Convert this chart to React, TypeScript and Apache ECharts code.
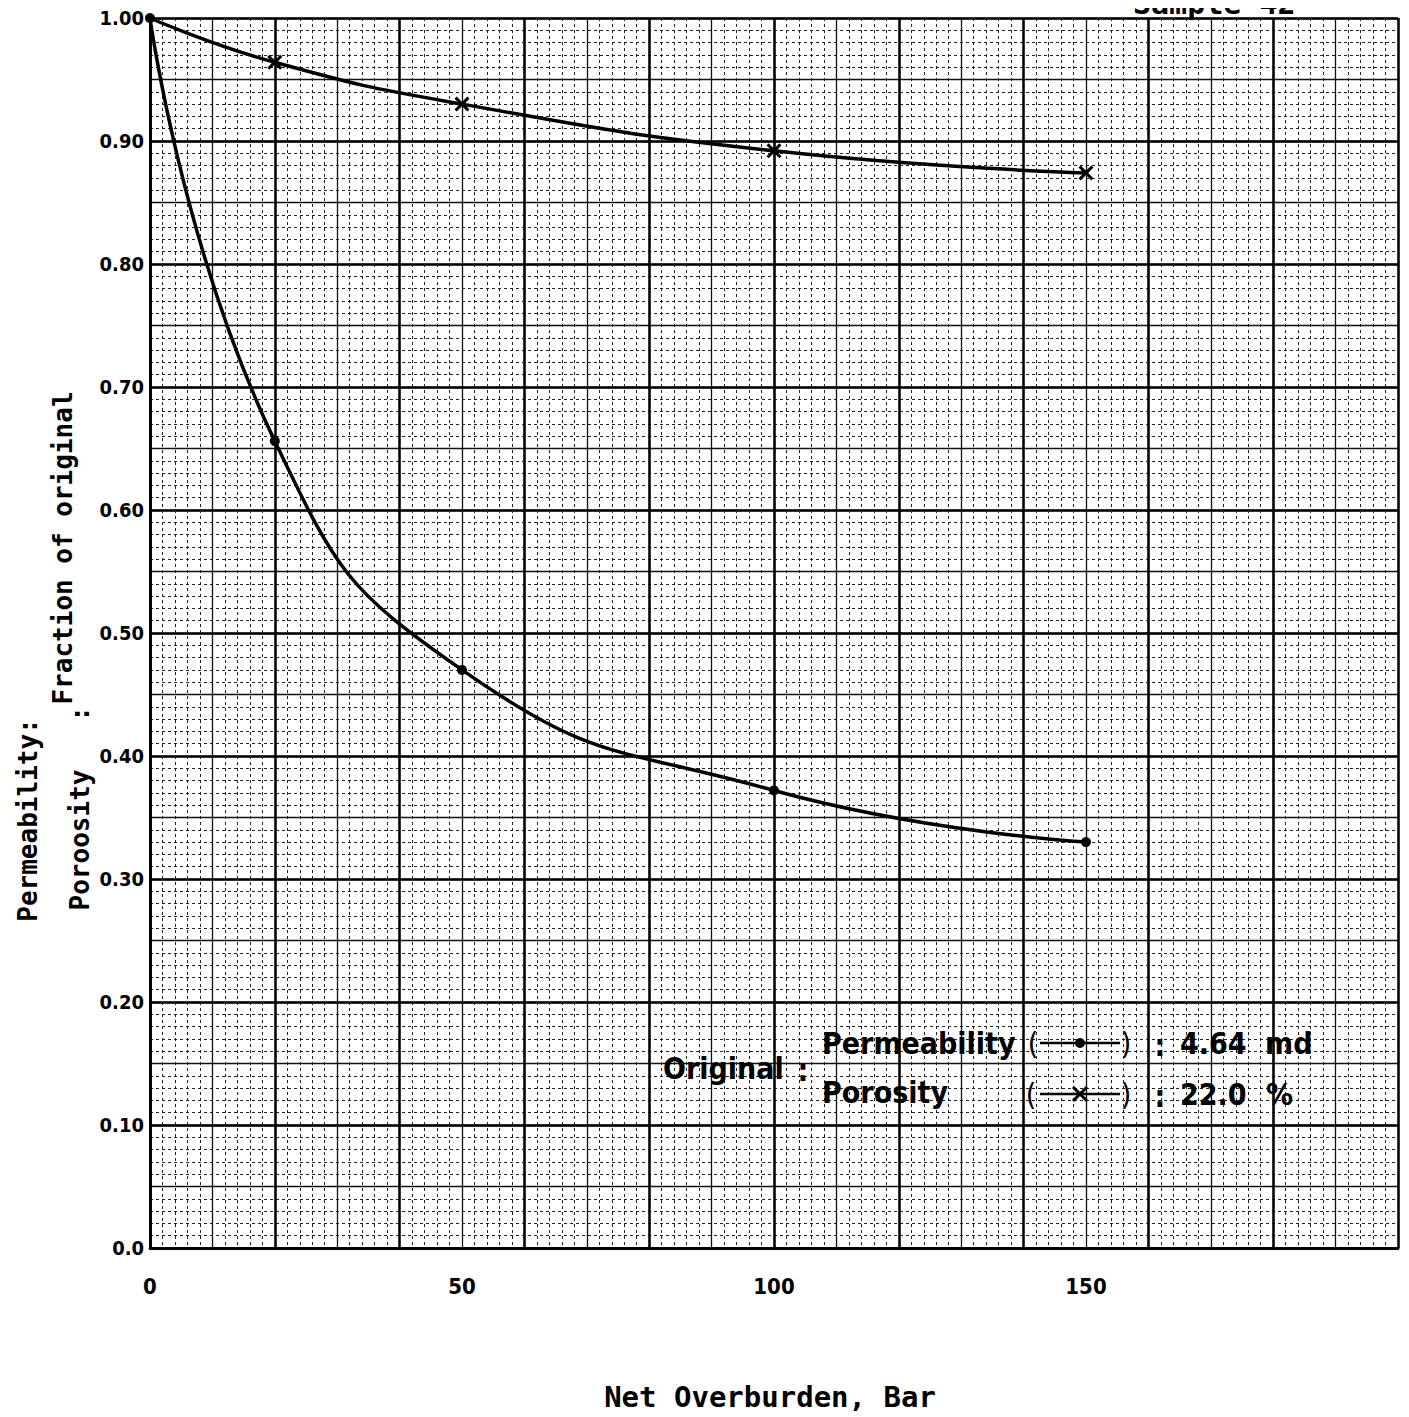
import React, { useEffect, useRef } from "react";
import * as echarts from "echarts";

const overburden = [0, 20, 50, 100, 150];
const permeabilityFraction = [1.0, 0.656, 0.47, 0.372, 0.33];
const porosityFraction = [1.0, 0.964, 0.93, 0.892, 0.874];
const xLabelValues = [0, 50, 100, 150];
const yLabelValues = [0, 0.1, 0.2, 0.3, 0.4, 0.5, 0.6, 0.7, 0.8, 0.9, 1.0];

const FONT = "'DejaVu Sans Condensed', 'DejaVu Sans', sans-serif";
const MONO = "'DejaVu Sans Mono', monospace";
const X_SYMBOL =
  "path://M0,2 L2,0 L7,5 L12,0 L14,2 L9,7 L14,12 L12,14 L7,9 L2,14 L0,12 L5,7 Z";

export default function App() {
  const ref = useRef<HTMLDivElement>(null);
  useEffect(() => {
    if (!ref.current) return;
    const chart = echarts.init(ref.current, undefined, { renderer: "svg" });
    const minorLine = { show: true, lineStyle: { color: "#222", width: 1, type: [3, 3] as any } };
    const txt = (text: string, x: number, y: number, font: string, extra: any = {}) => ({
      type: "text",
      x,
      y,
      z: 20,
      ...extra,
      style: { text, font, fill: "#000", align: extra.align || "left", verticalAlign: "middle" },
    });
    const option: any = {
      animation: false,
      backgroundColor: "#ffffff",
      grid: { left: 150, right: 11, top: 18, bottom: 169, containLabel: false },
      xAxis: [
        {
          type: "value",
          min: 0,
          max: 200,
          interval: 10,
          position: "bottom",
          axisLine: { show: true, lineStyle: { color: "#000", width: 2.5 } },
          axisTick: { show: false },
          axisLabel: {
            margin: 27,
            color: "#000",
            fontFamily: FONT,
            fontWeight: "bold",
            fontSize: 22,
            formatter: (v: number) => (xLabelValues.includes(Math.round(v)) ? String(Math.round(v)) : ""),
          },
          splitLine: { show: true, lineStyle: { color: "#111", width: 1.3 } },
          minorTick: { show: false, splitNumber: 5 },
          minorSplitLine: minorLine,
        },
        {
          type: "value",
          min: 0,
          max: 200,
          interval: 20,
          position: "top",
          axisLine: { show: true, lineStyle: { color: "#000", width: 2.5 } },
          axisTick: { show: false },
          axisLabel: { show: false },
          splitLine: { show: true, lineStyle: { color: "#000", width: 2.5 } },
        },
      ],
      yAxis: [
        {
          type: "value",
          min: 0,
          max: 1,
          interval: 0.05,
          position: "left",
          axisLine: { show: true, lineStyle: { color: "#000", width: 2.5 } },
          axisTick: { show: false },
          axisLabel: {
            margin: 6,
            color: "#000",
            fontFamily: FONT,
            fontWeight: "bold",
            fontSize: 20,
            formatter: (v: number) => {
              const hit = yLabelValues.find((t) => Math.abs(t - v) < 1e-6);
              if (hit === undefined) return "";
              return hit === 0 ? "0.0" : hit.toFixed(2);
            },
          },
          splitLine: { show: true, lineStyle: { color: "#111", width: 1.3 } },
          minorTick: { show: false, splitNumber: 5 },
          minorSplitLine: minorLine,
        },
        {
          type: "value",
          min: 0,
          max: 1,
          interval: 0.1,
          position: "right",
          axisLine: { show: true, lineStyle: { color: "#000", width: 2.5 } },
          axisTick: { show: false },
          axisLabel: { show: false },
          splitLine: { show: true, lineStyle: { color: "#000", width: 2.5 } },
        },
      ],
      series: [
        {
          name: "Permeability",
          type: "line",
          xAxisIndex: 0,
          yAxisIndex: 0,
          smooth: 0.5,
          data: overburden.map((x, i) => [x, permeabilityFraction[i]]),
          symbol: "circle",
          symbolSize: 10,
          itemStyle: { color: "#000" },
          lineStyle: { color: "#000", width: 3.5 },
          z: 11,
        },
        {
          name: "Porosity",
          type: "line",
          xAxisIndex: 0,
          yAxisIndex: 0,
          smooth: 0.5,
          data: overburden.map((x, i) => [x, porosityFraction[i]]),
          symbol: (_v: any, p: any) => (p.dataIndex === 0 ? "none" : X_SYMBOL),
          symbolSize: 15,
          itemStyle: { color: "#000" },
          lineStyle: { color: "#000", width: 3.5 },
          z: 10,
        },
      ],
      graphic: [
        { type: "text", left: 1133, top: -12, style: { text: "Sample 42", font: `bold 30px ${MONO}`, fill: "#000" } },
        txt("Permeability:", 28, 820, `bold 26px ${MONO}`, { rotation: Math.PI / 2, align: "center" }),
        txt("Poroosity", 80, 840, `bold 26px ${MONO}`, { rotation: Math.PI / 2, align: "center" }),
        txt(":", 80, 714, `bold 26px ${MONO}`, { rotation: Math.PI / 2, align: "center" }),
        txt("Fraction of original", 63, 548, `bold 26px ${MONO}`, { rotation: Math.PI / 2, align: "center" }),
        txt("Net Overburden, Bar", 770, 1397, `bold 29px ${MONO}`, { align: "center" }),
        // legend block
        txt("Original", 663, 1068, `bold 30px ${FONT}`),
        txt(":", 803, 1070, `bold 30px ${FONT}`, { align: "center" }),
        txt("Permeability", 822, 1043, `bold 30px ${FONT}`),
        txt("Porosity", 822, 1092, `bold 30px ${FONT}`),
        txt("(", 1033, 1043, `30px ${FONT}`, { align: "center" }),
        txt(")", 1126, 1043, `30px ${FONT}`, { align: "center" }),
        txt("(", 1031, 1094, `30px ${FONT}`, { align: "center" }),
        txt(")", 1126, 1094, `30px ${FONT}`, { align: "center" }),
        { type: "line", z: 20, shape: { x1: 1040, y1: 1043, x2: 1120, y2: 1043 }, style: { stroke: "#000", lineWidth: 2.5 } },
        { type: "circle", z: 20, shape: { cx: 1080, cy: 1043, r: 5 }, style: { fill: "#000" } },
        { type: "line", z: 20, shape: { x1: 1040, y1: 1094, x2: 1120, y2: 1094 }, style: { stroke: "#000", lineWidth: 2.5 } },
        { type: "line", z: 20, shape: { x1: 1073, y1: 1087, x2: 1087, y2: 1101 }, style: { stroke: "#000", lineWidth: 3 } },
        { type: "line", z: 20, shape: { x1: 1087, y1: 1087, x2: 1073, y2: 1101 }, style: { stroke: "#000", lineWidth: 3 } },
        txt(":", 1160, 1045, `bold 30px ${FONT}`, { align: "center" }),
        txt(":", 1160, 1096, `bold 30px ${FONT}`, { align: "center" }),
        txt("4.64", 1180, 1043, `bold 30px ${FONT}`),
        txt("md", 1265, 1043, `bold 30px ${FONT}`),
        txt("22.0", 1180, 1094, `bold 30px ${FONT}`),
        txt("%", 1266, 1094, `bold 30px ${FONT}`),
      ],
    };
    chart.setOption(option);
    return () => chart.dispose();
  }, []);
  return <div ref={ref} style={{ width: 1409, height: 1417, marginLeft: -8, marginTop: -8 }} />;
}
